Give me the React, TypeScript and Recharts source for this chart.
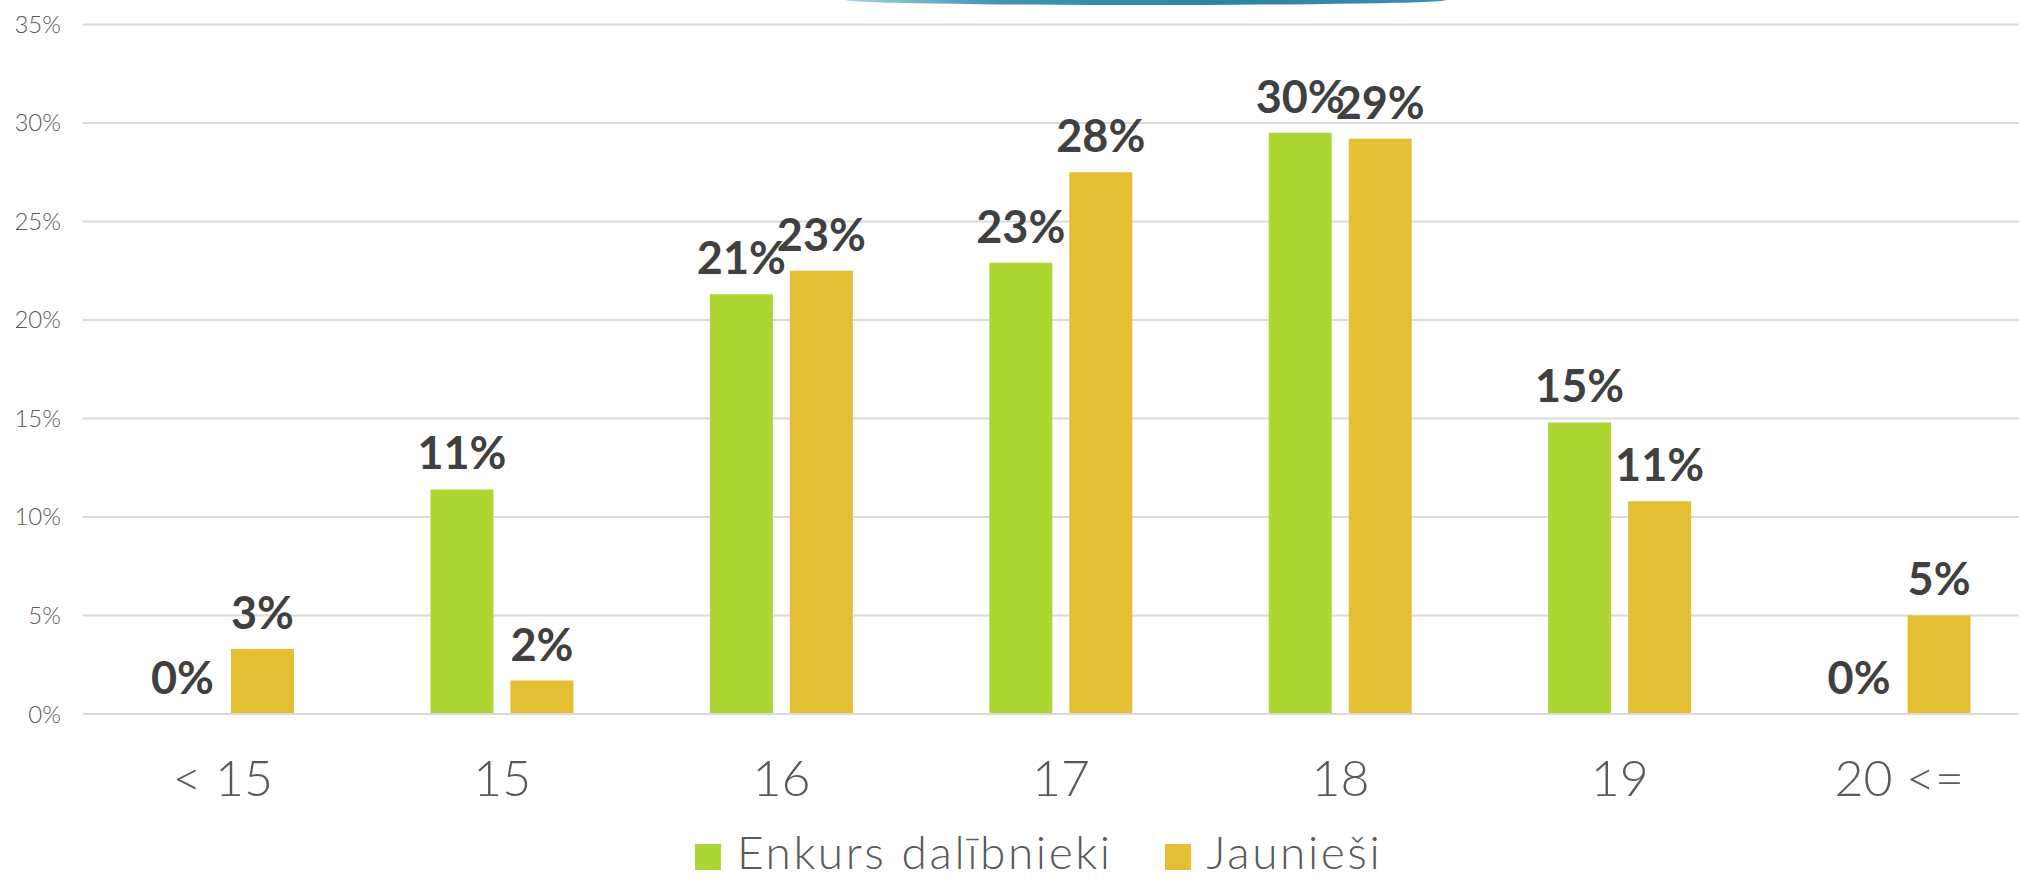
import { Bar, BarChart, CartesianGrid, LabelList, Legend, XAxis, YAxis } from "recharts";

const CATEGORIES = ["< 15", "15", "16", "17", "18", "19", "20 <="];
const ENKURS = [0, 11.4, 21.3, 22.9, 29.5, 14.8, 0];
const JAUNIESI = [3.3, 1.7, 22.5, 27.5, 29.2, 10.8, 5.0];
const Y_TICKS = [0, 5, 10, 15, 20, 25, 30, 35];
const SERIES_NAMES = ["Enkurs dalībnieki", "Jaunieši"];

const GREEN = "#ADD633";
const YELLOW = "#E4BF33";
const FONT = "Lato, 'Open Sans', sans-serif";

const chartData = CATEGORIES.map((name, i) => ({
  name,
  enkurs: ENKURS[i],
  jaunniesi: JAUNIESI[i],
}));

const pct = (v: any) => `${Math.round(Number(v))}%`;

const labelStyle = { fontSize: 45, fontWeight: 700, fill: "#404040", fontFamily: FONT };

const renderLegend = () => (
  <div
    style={{
      display: "flex",
      alignItems: "flex-start",
      height: 65,
      paddingLeft: 695,
      fontFamily: FONT,
      fontWeight: 300,
      fontSize: 46,
      letterSpacing: 2.6,
      color: "#595959",
    }}
  >
    {SERIES_NAMES.map((name, i) => (
      <div key={name} style={{ display: "flex", alignItems: "flex-start", marginRight: 52 }}>
        <span
          style={{
            display: "block",
            width: 26,
            height: 26,
            marginTop: 30,
            marginRight: 16,
            background: i === 0 ? GREEN : YELLOW,
          }}
        />
        <span style={{ display: "block", lineHeight: "46px", marginTop: 15, whiteSpace: "nowrap" }}>{name}</span>
      </div>
    ))}
  </div>
);

export default function App() {
  return (
    <div
      style={{
        position: "absolute",
        left: 0,
        top: 0,
        width: 2019,
        height: 879,
        overflow: "hidden",
        background: "#fff",
      }}
    >
      {/* bottom edge of the title shape, cut off at the top */}
      <div
        style={{
          position: "absolute",
          left: 846,
          top: -5,
          width: 600,
          height: 10,
          borderRadius: "50%",
          background: "linear-gradient(90deg, #a9d2df 0%, #3f95b4 25%, #2e84a5 60%, #3a8fb0 100%)",
          zIndex: 2,
        }}
      />
      <BarChart
        width={2050}
        height={879}
        data={chartData}
        margin={{ top: 24.4, right: 11, bottom: 0, left: 0 }}
        barSize={63}
        barGap={17}
      >
        <CartesianGrid vertical={false} stroke="#d9d9d9" strokeWidth={2} />
        <XAxis
          dataKey="name"
          height={100}
          tickLine={false}
          axisLine={{ stroke: "#d9d9d9", strokeWidth: 2 }}
          tickMargin={40}
          tick={{ fontSize: 50, fill: "#595959", fontFamily: FONT, fontWeight: 300 }}
          interval={0}
        />
        <YAxis
          width={83}
          domain={[0, 35]}
          ticks={Y_TICKS}
          tickFormatter={(v) => `${v}%`}
          tickLine={false}
          axisLine={false}
          tickMargin={16}
          tick={{ fontSize: 24, fill: "#595959", fontFamily: FONT, fontWeight: 300 }}
        />
        <Legend verticalAlign="bottom" align="left" content={renderLegend} />
        <Bar dataKey="enkurs" name={SERIES_NAMES[0]} fill={GREEN} minPointSize={0.01} isAnimationActive={false}>
          <LabelList dataKey="enkurs" position="top" offset={20} formatter={pct} style={labelStyle} />
        </Bar>
        <Bar dataKey="jaunniesi" name={SERIES_NAMES[1]} fill={YELLOW} minPointSize={0.01} isAnimationActive={false}>
          <LabelList dataKey="jaunniesi" position="top" offset={20} formatter={pct} style={labelStyle} />
        </Bar>
      </BarChart>
    </div>
  );
}
